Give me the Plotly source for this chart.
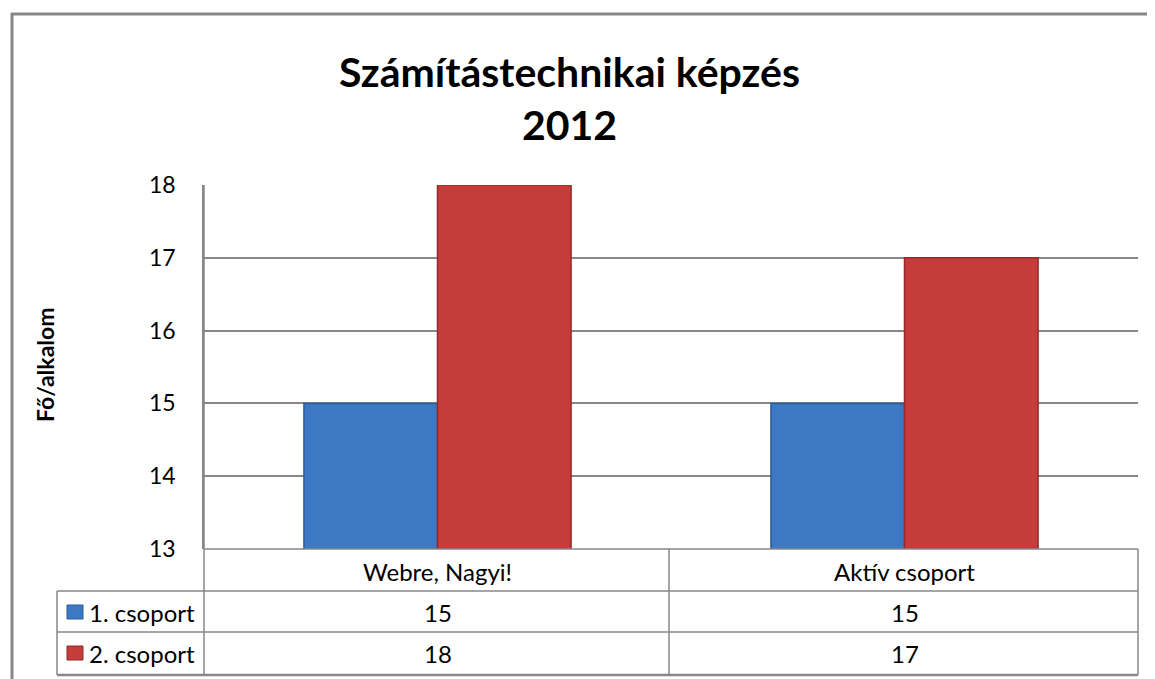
import plotly.graph_objects as go

categories = ["Webre, Nagyi!", "Aktív csoport"]
series_names = ["1. csoport", "2. csoport"]
group1 = [15, 15]
group2 = [18, 17]
y_ticks = [13, 14, 15, 16, 17, 18]
title_text = "Számítástechnikai képzés<br>2012"
y_title = "Fő/alkalom"

OFF = 8  # page body margin
W, H = 1155 - OFF, 679 - OFF
FONT = "Lato"
GRID = "#878787"

def px(x):
    return (x - OFF) / W

def py(y):
    return 1 - (y - OFF) / H

fill_colors = ["#3D78C2", "#C53C3A"]
line_colors = ["#2C5C9A", "#952B29"]
series_values = [group1, group2]

fig = go.Figure()
for name, vals, fc, lc in zip(series_names, series_values, fill_colors, line_colors):
    fig.add_trace(go.Bar(
        x=categories, y=vals, name=name,
        marker=dict(color=fc, line=dict(color=lc, width=1.5)),
        showlegend=False,
    ))

fig.update_layout(
    width=W, height=H,
    margin=dict(l=0, r=0, t=0, b=0, pad=0, autoexpand=False),
    showlegend=False,
    paper_bgcolor="white", plot_bgcolor="white",
    barmode="group", bargap=0.428, bargroupgap=0,
    font=dict(family=FONT, color="black"),
    xaxis=dict(domain=[px(204), px(1138)], showticklabels=False, showgrid=False,
               zeroline=False, showline=False, ticks="", automargin=False),
    yaxis=dict(domain=[py(549), py(185)], range=[13, 18], tickvals=y_ticks,
               showgrid=True, gridcolor=GRID, gridwidth=1.5, zeroline=False,
               showline=True, linecolor=GRID, linewidth=1.5, automargin=False,
               ticks="", ticklabelstandoff=22,
               tickfont=dict(family=FONT, size=23, color="black")),
)

shapes = []
def hline(y, x0, x1, w=1.5):
    shapes.append(dict(type="line", xref="paper", yref="paper", x0=px(x0), x1=px(x1),
                       y0=py(y), y1=py(y), line=dict(color=GRID, width=w)))
def vline(x, y0, y1, w=1.5):
    shapes.append(dict(type="line", xref="paper", yref="paper", x0=px(x), x1=px(x),
                       y0=py(y0), y1=py(y1), line=dict(color=GRID, width=w)))

# outer chart border
hline(14, 11, 1155, 3)
vline(12, 13, 679, 3)
# data table
hline(549, 204, 1138)
hline(591, 57, 1138)
hline(632, 57, 1138)
hline(675, 57, 1138, 2.5)
vline(57, 591, 675)
vline(204, 185, 675)
vline(669, 549, 675)
vline(1138, 549, 675)
# legend keys in table
row_y = [612, 653]
for ry, fc, lc in zip(row_y, fill_colors, line_colors):
    shapes.append(dict(type="rect", xref="paper", yref="paper",
                       x0=px(67), x1=px(83), y0=py(ry - 7), y1=py(ry + 7),
                       fillcolor=fc, line=dict(color=lc, width=1)))

annotations = [
    dict(text=title_text, xref="paper", yref="paper", x=px(569), y=py(98),
         xanchor="center", yanchor="middle", showarrow=False,
         font=dict(family=FONT, size=41, color="black", weight="bold")),
    dict(text=y_title, xref="paper", yref="paper", x=px(45), y=py(365),
         xanchor="center", yanchor="middle", showarrow=False, textangle=-90,
         font=dict(family=FONT, size=23, color="black", weight="bold")),
]
for c in categories:
    annotations.append(dict(text=c, xref="x", yref="paper", x=c, y=py(571),
                            xanchor="center", yanchor="middle", showarrow=False,
                            font=dict(family=FONT, size=24, color="black")))
for name, vals, ry in zip(series_names, series_values, row_y):
    annotations.append(dict(text=name, xref="paper", yref="paper", x=px(197), y=py(ry),
                            xanchor="right", yanchor="middle", showarrow=False,
                            font=dict(family=FONT, size=24, color="black")))
    for c, v in zip(categories, vals):
        annotations.append(dict(text=str(v), xref="x", yref="paper", x=c, y=py(ry),
                                xanchor="center", yanchor="middle", showarrow=False,
                                font=dict(family=FONT, size=24, color="black")))

fig.update_layout(shapes=shapes, annotations=annotations)
fig.write_html("out.html")
